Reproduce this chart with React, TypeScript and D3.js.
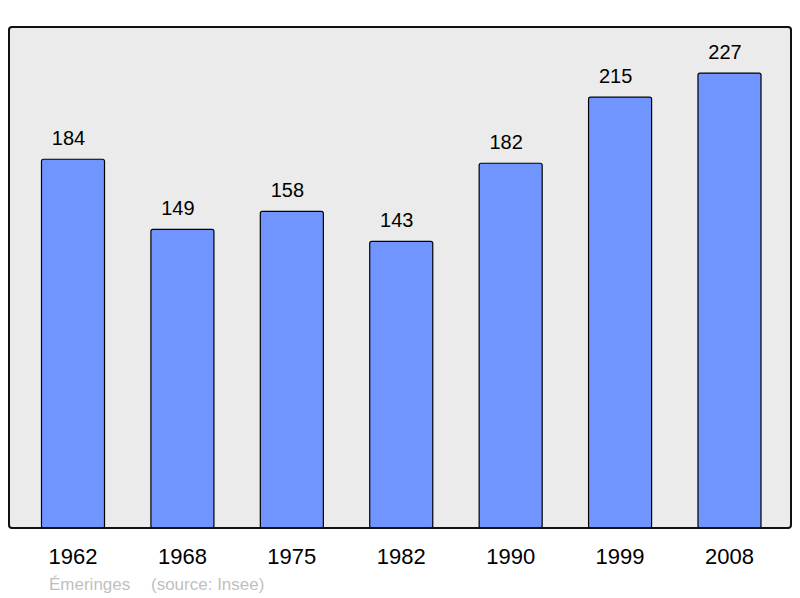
import React, { useEffect, useRef } from "react";
import * as d3 from "d3";

const years = ["1962", "1968", "1975", "1982", "1990", "1999", "2008"];
const population = [184, 149, 158, 143, 182, 215, 227];
const commune = "Émeringes";
const source = "(source: Insee)";

const W = 800;
const H = 598;

export default function App() {
  const ref = useRef<SVGSVGElement>(null);

  useEffect(() => {
    const svg = d3.select(ref.current);
    svg.selectAll("*").remove();

    const panel = { left: 9, top: 27, right: 791, bottom: 528 };
    const data = years.map((y, i) => ({ year: y, value: population[i] }));

    const x = d3.scaleBand().domain(years).range([18.3, 784.2]).paddingInner(0.424).paddingOuter(0.212);
    const y = d3.scaleLinear().domain([0, 250]).range([panel.bottom, panel.top]);

    svg.append("rect")
      .attr("x", panel.left).attr("y", panel.top)
      .attr("width", panel.right - panel.left).attr("height", panel.bottom - panel.top)
      .attr("rx", 3).attr("fill", "#ebebeb");

    svg.selectAll("rect.bar").data(data).join("rect").attr("class", "bar")
      .attr("x", d => x(d.year)!)
      .attr("y", d => y(d.value))
      .attr("width", x.bandwidth())
      .attr("height", d => panel.bottom - y(d.value))
      .attr("rx", 2)
      .attr("fill", "#7095ff").attr("stroke", "#000").attr("stroke-width", 1.2);

    svg.append("rect")
      .attr("x", panel.left).attr("y", panel.top)
      .attr("width", panel.right - panel.left).attr("height", panel.bottom - panel.top)
      .attr("rx", 3).attr("fill", "none").attr("stroke", "#111").attr("stroke-width", 2);

    // value labels sit slightly left of the bar centre in the original
    svg.selectAll("text.val").data(data).join("text").attr("class", "val")
      .attr("x", d => x(d.year)! + x.bandwidth() / 2 - 4.5)
      .attr("y", d => y(d.value) - 14)
      .attr("text-anchor", "middle")
      .attr("font-family", "Liberation Sans, Arial, sans-serif")
      .attr("font-size", 20).attr("fill", "#000")
      .text(d => d.value);

    svg.selectAll("text.year").data(data).join("text").attr("class", "year")
      .attr("x", d => x(d.year)! + x.bandwidth() / 2)
      .attr("y", 564)
      .attr("text-anchor", "middle")
      .attr("font-family", "Liberation Sans, Arial, sans-serif")
      .attr("font-size", 22).attr("fill", "#000")
      .text(d => d.year);

    svg.append("text").attr("x", 49).attr("y", 590)
      .attr("font-family", "Liberation Sans, Arial, sans-serif")
      .attr("font-size", 17).attr("fill", "#bfbfbf").text(commune);

    svg.append("text").attr("x", 151).attr("y", 590)
      .attr("font-family", "Liberation Sans, Arial, sans-serif")
      .attr("font-size", 17).attr("fill", "#bfbfbf").text(source);
  }, []);

  return (
    <svg ref={ref} width={W} height={H}
      style={{ position: "absolute", left: 0, top: 0, background: "#fff" }} />
  );
}
